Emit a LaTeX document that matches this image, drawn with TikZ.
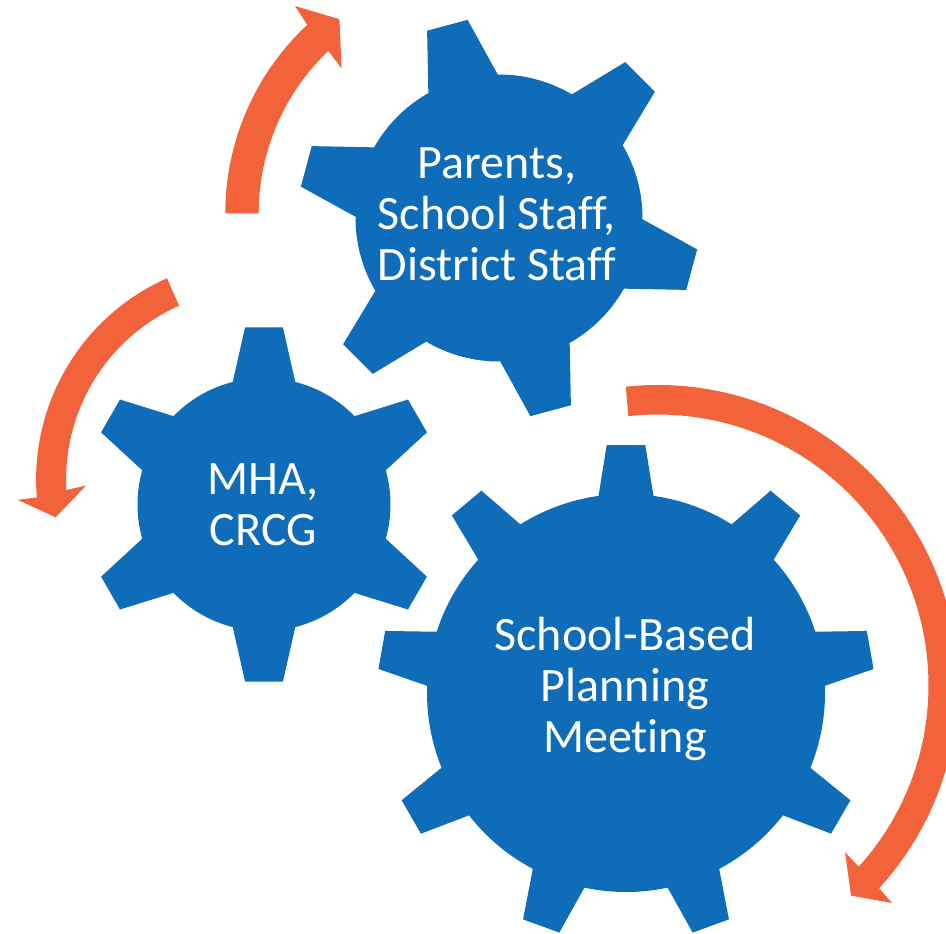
\documentclass[tikz,border=0pt]{standalone}
\usepackage{fontspec}
\setmainfont{Carlito}[Ligatures=NoCommon]
\definecolor{gearblue}{RGB}{15,108,185}
\definecolor{arroworange}{RGB}{242,99,60}
% #1 cx, #2 cy (screen, downward), #3 teeth, #4 phase, #5 tip radius, #6 body radius, #7 tip half-angle, #8 base half-angle
\newcommand\mygear[8]{%
  \fill[gearblue, shift={(#1,-#2)}] (#4-#8:#6)
    \foreach \i [evaluate=\i as \a using #4+(\i-1)*360/#3] in {1,...,#3}{
      -- (\a-#7:#5) -- (\a+#7:#5) -- (\a+#8:#6)
      arc[start angle=\a+#8, end angle=\a+360/#3-#8, radius=#6]
    } -- cycle;%
}
\tikzset{
  geartext/.style={text=white, font=\fontsize{36}{38.25}\selectfont, align=center, inner sep=0pt, anchor=base},
  bigarrow/.style={fill=arroworange}
}
\begin{document}
\begin{tikzpicture}[x=0.75pt,y=0.75pt]
\useasboundingbox (0,0) rectangle (946,-933);
\fill[white] (0,0) rectangle (946,-933);
\clip (0,0) rectangle (946,-933);

% gears
\mygear{499}{218}{6}{45}{200.6}{143.5}{6.0}{14.5}
\mygear{264}{504.5}{6}{30}{178.2}{126.5}{6.1}{14.3}
\mygear{626}{693}{9}{10}{248.7}{199}{4.45}{7.93}

% arrows
\fill[bigarrow, shift={(483,-213.3)}]
  (180:257.7) arc[start angle=180, end angle=133.0, radius=257.7]
  -- (132.2:279.9) -- (126.5:241.4) -- (134.3:202.5) -- (133.6:224.3)
  arc[start angle=133.6, end angle=180, radius=224.3] -- cycle;
\fill[bigarrow, shift={(256.1,-479.4)}]
  (113.9:220) arc[start angle=113.9, end angle=184.7, radius=220]
  -- (184.9:239.3) -- (190.7:204) -- (182.1:170.2) -- (183.2:190)
  arc[start angle=183.2, end angle=113.9, radius=190] -- cycle;
\fill[bigarrow, shift={(657.7,-685.3)}]
  (96.1:300.3) arc[start angle=96.1, end angle=-42.5, radius=300.3]
  -- (-42.9:319.8) -- (-47.4:285.7) -- (-41.7:250.9) -- (-42.06:270.8)
  arc[start angle=-42.06, end angle=96.2, radius=270.8] -- cycle;

% texts (anchor=base is the baseline of the last line)
\node[geartext] (parents) at (497,-280) {Parents,\\School Staff,\\District Staff};
\node[geartext] (mha) at (263.3,-545.7) {MHA,\\CRCG};
\node[geartext] (sbpm) at (625,-752.3) {School-Based\\Planning\\Meeting};
\end{tikzpicture}
\end{document}
